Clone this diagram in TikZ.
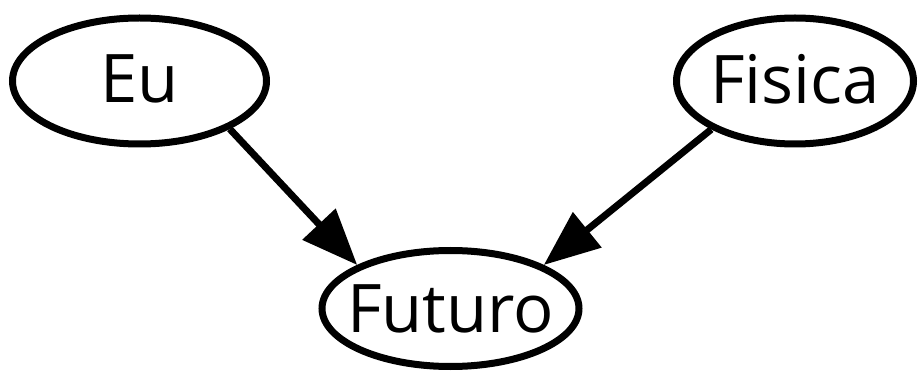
\documentclass[tikz,border=0pt]{standalone}
\usepackage{fontspec}
\setmainfont{Open Sans}
\usetikzlibrary{shapes.geometric,arrows.meta}
\newcommand{\zw}[1]{\makebox[0pt]{#1}}
\begin{document}
\begin{tikzpicture}[x=1pt,y=-1pt,
  nd/.style={ellipse,draw=black,line width=7pt,inner sep=0pt,font=\fontsize{67}{70}\selectfont},
  edge/.style={line width=7pt,-{Triangle[length=56pt,width=44pt]}}]
\useasboundingbox (0,0) rectangle (919,382);
\fill[white] (0,0) rectangle (919,382);
\node[nd,minimum width=254pt,minimum height=126pt] (eu) at (139.5,81) {\zw{\raisebox{5pt}{Eu}}};
\node[nd,minimum width=237pt,minimum height=126pt] (fis) at (795,81) {\zw{\raisebox{5pt}{Fisica}}};
\node[nd,minimum width=257pt,minimum height=116pt] (fut) at (450.5,308.5) {\zw{Futuro}};
\draw[edge] (eu.-28) -- (fut.155);
\draw[edge] (fis.-150) -- (fut.25);
\end{tikzpicture}
\end{document}
